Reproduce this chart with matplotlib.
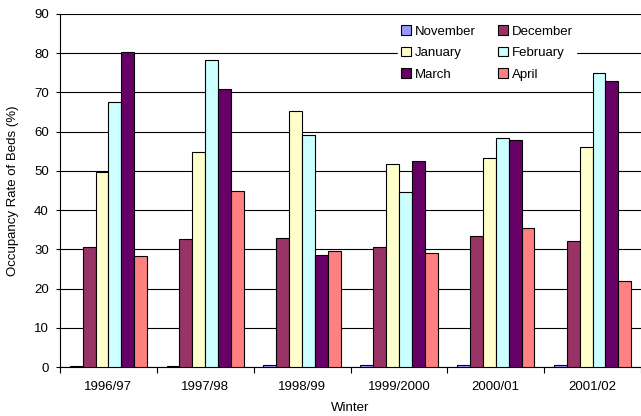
import matplotlib
matplotlib.use("Agg")
import matplotlib.pyplot as plt
import numpy as np

winters = ["1996/97", "1997/98", "1998/99", "1999/2000", "2000/01", "2001/02"]
months = ["November", "December", "January", "February", "March", "April"]
november = [0.2, 0.2, 0.5, 0.5, 0.4, 0.4]
december = [30.7, 32.6, 32.8, 30.7, 33.3, 32.1]
january = [49.8, 54.8, 65.3, 51.8, 53.4, 56.0]
february = [67.6, 78.2, 59.2, 44.5, 58.5, 74.9]
march = [80.3, 71.0, 28.6, 52.6, 57.8, 72.9]
april = [28.2, 44.9, 29.7, 29.1, 35.5, 21.9]
series = [november, december, january, february, march, april]
colors = ["#9999FF", "#993366", "#FFFFCC", "#CCFFFF", "#660066", "#FF8080"]

plt.rcParams['font.family'] = ['Liberation Sans', 'DejaVu Sans']
fs = 9.5

fig = plt.figure(figsize=(6.41, 4.16), dpi=100)
ax = fig.add_axes([60/641, 49/416, 581/641, 353/416])

x = np.arange(len(winters))
w = 13/97.5
handles = []
for i, (vals, name, c) in enumerate(zip(series, months, colors)):
    h = ax.bar(x + (i - 2.5) * w, vals, width=w, color=c, edgecolor="black",
               linewidth=0.8, label=name, zorder=3)
    handles.append(h)

ax.set_ylim(0, 90)
ax.set_xlim(-0.5, -0.5 + 581/97.5)
ax.set_yticks(np.arange(0, 91, 10))
ax.yaxis.grid(True, color="black", linewidth=0.8, zorder=0)
ax.set_axisbelow(True)

ax.set_xticks(np.arange(-0.5, 6, 1))
ax.set_xticklabels([])
ax.set_xticks(x, minor=True)
ax.set_xticklabels(winters, minor=True)
ax.tick_params(axis="x", which="minor", length=0, pad=10, labelsize=fs)
ax.tick_params(axis="x", which="major", length=4, direction="out", width=0.8)
ax.tick_params(axis="y", length=3, direction="out", width=0.8, labelsize=fs, pad=5)

for s in ["top", "right"]:
    ax.spines[s].set_visible(False)
ax.spines["left"].set_linewidth(0.8)
ax.spines["bottom"].set_linewidth(0.8)

ax.set_xlabel("Winter", fontsize=fs)
ax.set_ylabel("Occupancy Rate of Beds (%)", fontsize=fs)
ax.xaxis.set_label_coords(0.5, (367 - 408) / 353, transform=ax.transAxes)
ax.yaxis.set_label_coords((13 - 60) / 581, 0.5, transform=ax.transAxes)
ax.xaxis.label.set_va("center")
ax.yaxis.label.set_va("center")

order = [0, 2, 4, 1, 3, 5]
leg = ax.legend([handles[i] for i in order], [months[i] for i in order],
                ncol=2, loc="upper left", bbox_to_anchor=(331/581, 1 - 1.5/353),
                frameon=True, fancybox=False, edgecolor="white", framealpha=1,
                fontsize=fs, handlelength=0.75, handleheight=0.7, handletextpad=0.3,
                columnspacing=1.7, labelspacing=0.7, borderpad=0.25)
leg.set_zorder(5)

fig.savefig("out.png", dpi=100)
